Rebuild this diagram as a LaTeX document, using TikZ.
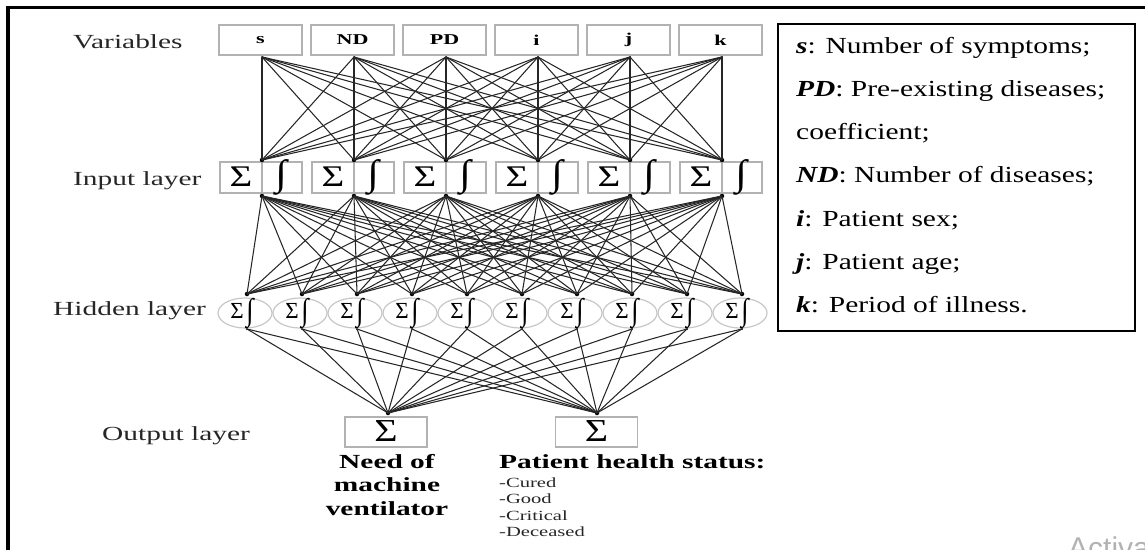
\documentclass[tikz,border=0pt]{standalone}
\usepackage{graphicx}
\usepackage{fontspec}
\setmainfont{Liberation Serif}
\newfontfamily\lblfont[FakeStretch=1.47]{Liberation Serif}
\newfontfamily\legfont[FakeStretch=1.28]{Liberation Serif}
\newfontfamily\symfont{Liberation Serif}
\newfontfamily\wmfont{Liberation Sans}
\usetikzlibrary{shapes.geometric}
\newcommand\SigIn{{\symfont\fontsize{30}{30}\selectfont\scalebox{1.3}[1]{Σ}}}
\newcommand\IntIn{{\symfont\fontsize{28}{28}\selectfont\scalebox{1.5}[1.3]{∫}}}
\newcommand\SigH{{\symfont\fontsize{23}{23}\selectfont Σ}}
\newcommand\IntH{{\symfont\fontsize{24}{24}\selectfont\scalebox{1.1}[1.3]{∫}}}
\newcommand\SigOut{{\symfont\fontsize{32}{32}\selectfont\scalebox{1.25}[1]{Σ}}}
\begin{document}
\begin{tikzpicture}[x=1pt,y=-1pt,
  conn/.style={draw=black!85, line width=1.05pt},
  gbox/.style={draw=black!30, line width=1.4pt, inner sep=0pt},
  dot/.style={circle, fill=black, inner sep=0pt, minimum size=4.5pt},
  sdot/.style={circle, fill=black, inner sep=0pt, minimum size=2pt},
  hid/.style={ellipse, draw=black!22, line width=1.2pt, minimum width=54pt, minimum height=30pt, inner sep=0pt},
  lbl/.style={font=\lblfont\fontsize{20}{20}\selectfont, text=black!85, anchor=base west, inner sep=0pt},
  varl/.style={font=\lblfont\fontsize{15}{15}\selectfont\bfseries},
  outl/.style={font=\lblfont\fontsize{20}{20}\selectfont\bfseries, anchor=base, inner sep=0pt},
  stat/.style={font=\lblfont\fontsize{20}{20}\selectfont\bfseries, anchor=base west, inner sep=0pt},
  statl/.style={font=\lblfont\fontsize{14}{14}\selectfont, anchor=base west, inner sep=0pt, text=black!85},
  leg/.style={font=\legfont\fontsize{23}{23}\selectfont, anchor=base west, inner sep=0pt}
]
\useasboundingbox (0,0) rectangle (1145,549);

% outer frame
\draw[line width=3.5pt] (8,560) -- (8,7.5) -- (1150,7.5);

% layer labels
\node[lbl] (lvar) at (73,48.3) {Variables};
\node[lbl] (linp) at (73,185) {Input layer};
\node[lbl] (lhid) at (53,315) {Hidden layer};
\node[lbl] (lout) at (102,440) {Output layer};

% variables and input layer
\foreach \i/\c/\t in {1/262/s,2/354/ND,3/446/PD,4/538/i,5/630/j,6/722/k} {
  \node[gbox, varl, minimum width=83pt, minimum height=30pt] (var\i) at (\c-1.5,40) {\t};
  \node[gbox, minimum width=42pt, minimum height=31pt] (sig\i) at (\c-21,177.5) {};
  \node[gbox, minimum width=40pt, minimum height=31pt] (int\i) at (\c+20,177.5) {};
  \node (sigt\i) at (\c-21,177) {\SigIn};
  \node (intt\i) at (\c+19,177) {\IntIn};
  \node[sdot] (vb\i) at (\c,57) {};
  \node[dot] (it\i) at (\c,160) {};
  \node[dot] (ib\i) at (\c,196) {};
}

% hidden layer
\foreach \j in {1,...,10} {
  \pgfmathsetmacro\h{192+55*\j}
  \node[hid] (hid\j) at (\h-2,313) {};
  \node (hs\j) at (\h-10,311) {\SigH};
  \node (hi\j) at (\h+3,314) {\IntH};
  \node[dot] (ht\j) at (\h,294) {};
  \node[sdot] (hb\j) at (\h,329) {};
}

% output layer
\node[gbox, minimum width=82pt, minimum height=30pt] (out1) at (386,432) {};
\node[gbox, minimum width=82pt, minimum height=30pt] (out2) at (596.5,432) {};
\node (os1) at (386,431) {\SigOut};
\node (os2) at (596.5,431) {\SigOut};
\node[dot] (ot1) at (388,413) {};
\node[dot] (ot2) at (597,413) {};

% connectors
\foreach \a in {1,...,6} \foreach \b in {1,...,6} \draw[conn] (vb\a.center) -- (it\b.center);
\foreach \a in {1,...,6} \foreach \b in {1,...,10} \draw[conn] (ib\a.center) -- (ht\b.center);
\foreach \a in {1,...,10} \foreach \b in {1,2} \draw[conn] (hb\a.center) -- (ot\b.center);

% output labels
\node[outl] (need1) at (387,468) {Need of};
\node[outl] (need2) at (387,491.5) {machine};
\node[outl] (need3) at (387,515) {ventilator};
\node[stat] (phs) at (499,468) {Patient health status:};
\node[statl] (st1) at (499,487) {-Cured};
\node[statl] (st2) at (499,503.5) {-Good};
\node[statl] (st3) at (499,520) {-Critical};
\node[statl] (st4) at (499,536.5) {-Deceased};

% legend
\node[draw=black, line width=1.8pt, minimum width=357pt, minimum height=307pt, inner sep=0pt] (legbox) at (956.5,177.5) {};
\node[leg] (l1) at (796,53) {\textbf{\textit{s}}: Number of symptoms;};
\node[leg] (l2) at (796,96.3) {\textbf{\textit{PD}}: Pre-existing diseases;};
\node[leg] (l3) at (796,139.6) {coefficient;};
\node[leg] (l4) at (796,182.9) {\textbf{\textit{ND}}: Number of diseases;};
\node[leg] (l5) at (796,226.2) {\textbf{\textit{i}}: Patient sex;};
\node[leg] (l6) at (796,269.5) {\textbf{\textit{j}}: Patient age;};
\node[leg] (l7) at (796,312.8) {\textbf{\textit{k}}: Period of illness.};

% watermark remnant
\begin{scope}
\clip (0,0) rectangle (1145,549);
\node[font=\wmfont\fontsize{30}{30}\selectfont, text=black!30, anchor=base west, inner sep=0pt] (wm) at (1068,558.5) {Activate};
\end{scope}
\end{tikzpicture}
\end{document}
